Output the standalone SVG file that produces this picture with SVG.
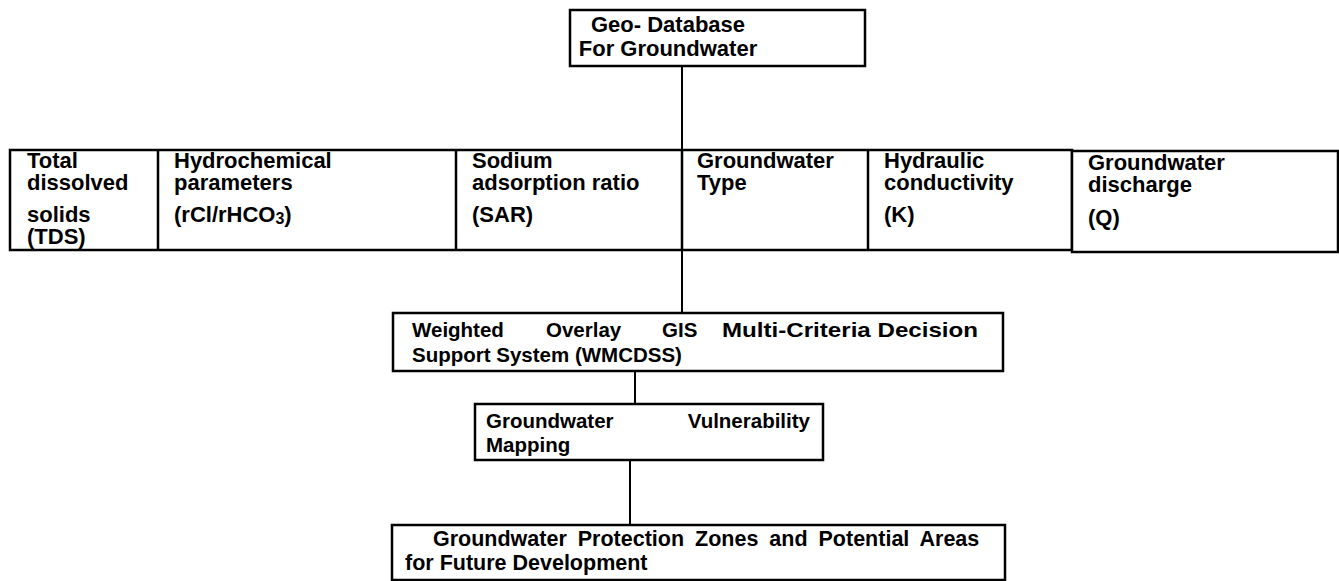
<svg xmlns="http://www.w3.org/2000/svg" width="1339" height="581" viewBox="0 0 1339 581">
<style>
.box{fill:#fff;stroke:#000;stroke-width:2.5}
.div{stroke:#000;stroke-width:2.5}
.con{stroke:#000;stroke-width:2;fill:none}
text{font-family:"Liberation Sans",Arial,sans-serif;font-weight:bold;fill:#000}
.r{font-size:22px}
.m{font-size:20.5px}
.b{font-size:21.5px}
</style>
<rect width="1339" height="581" fill="#fff"/>
<g id="connectors">
<line class="con" x1="682" y1="66" x2="682" y2="150"/>
<line class="con" x1="682" y1="250" x2="682" y2="313"/>
<line class="con" x1="635" y1="371" x2="635" y2="404"/>
<line class="con" x1="630" y1="460" x2="630" y2="525"/>
</g>
<g id="geodatabase">
<rect class="box" x="570" y="10" width="295" height="56" stroke-width="2"/>
<text class="r" x="668" y="32" text-anchor="middle">Geo- Database</text>
<text class="r" x="668" y="56" text-anchor="middle">For Groundwater</text>
</g>
<g id="row">
<rect class="box" x="10" y="150" width="1062" height="100"/>
<line class="div" x1="158" y1="150" x2="158" y2="250"/>
<line class="div" x1="456" y1="150" x2="456" y2="250"/>
<line class="div" x1="682" y1="150" x2="682" y2="250" stroke-width="3"/>
<line class="div" x1="868" y1="150" x2="868" y2="250"/>
</g>
<g id="tds">
<text class="r" x="27" y="168">Total</text>
<text class="r" x="27" y="190">dissolved</text>
<text class="r" x="27" y="222">solids</text>
<text class="r" x="27" y="244">(TDS)</text>
</g>
<g id="hydrochemical">
<text class="r" x="174" y="168">Hydrochemical</text>
<text class="r" x="174" y="190">parameters</text>
<text class="r" x="174" y="222">(rCl/rHCO<tspan font-size="16" dy="2">3</tspan><tspan dy="-2">)</tspan></text>
</g>
<g id="sar">
<text class="r" x="472" y="168">Sodium</text>
<text class="r" x="472" y="190">adsorption ratio</text>
<text class="r" x="472" y="222">(SAR)</text>
</g>
<g id="gwtype">
<text class="r" x="697" y="168">Groundwater</text>
<text class="r" x="697" y="190">Type</text>
</g>
<g id="conductivity">
<text class="r" x="884" y="168">Hydraulic</text>
<text class="r" x="884" y="190">conductivity</text>
<text class="r" x="884" y="222">(K)</text>
</g>
<g id="discharge">
<rect class="box" x="1072" y="151" width="266" height="101"/>
<text class="r" x="1088" y="170">Groundwater</text>
<text class="r" x="1088" y="192">discharge</text>
<text class="r" x="1088" y="225">(Q)</text>
</g>
<g id="wmcdss">
<rect class="box" x="393" y="313" width="610" height="58" stroke-width="2"/>
<text class="m" y="337"><tspan x="412">Weighted</tspan><tspan x="546">Overlay</tspan><tspan x="662">GIS</tspan></text>
<text class="m" x="722" y="337" textLength="256" lengthAdjust="spacingAndGlyphs">Multi-Criteria Decision</text>
<text class="m" x="412" y="362">Support System (WMCDSS)</text>
</g>
<g id="vulnerability">
<rect class="box" x="475" y="404" width="348" height="56" stroke-width="2"/>
<text class="m" x="486" y="428">Groundwater</text>
<text class="m" x="810" y="428" text-anchor="end">Vulnerability</text>
<text class="m" x="486" y="452">Mapping</text>
</g>
<g id="protection">
<rect class="box" x="392" y="525" width="613" height="55" stroke-width="1.5"/>
<text class="b" x="433" y="546" word-spacing="5">Groundwater Protection Zones and Potential Areas</text>
<text class="b" x="405" y="570">for Future Development</text>
</g>
</svg>
